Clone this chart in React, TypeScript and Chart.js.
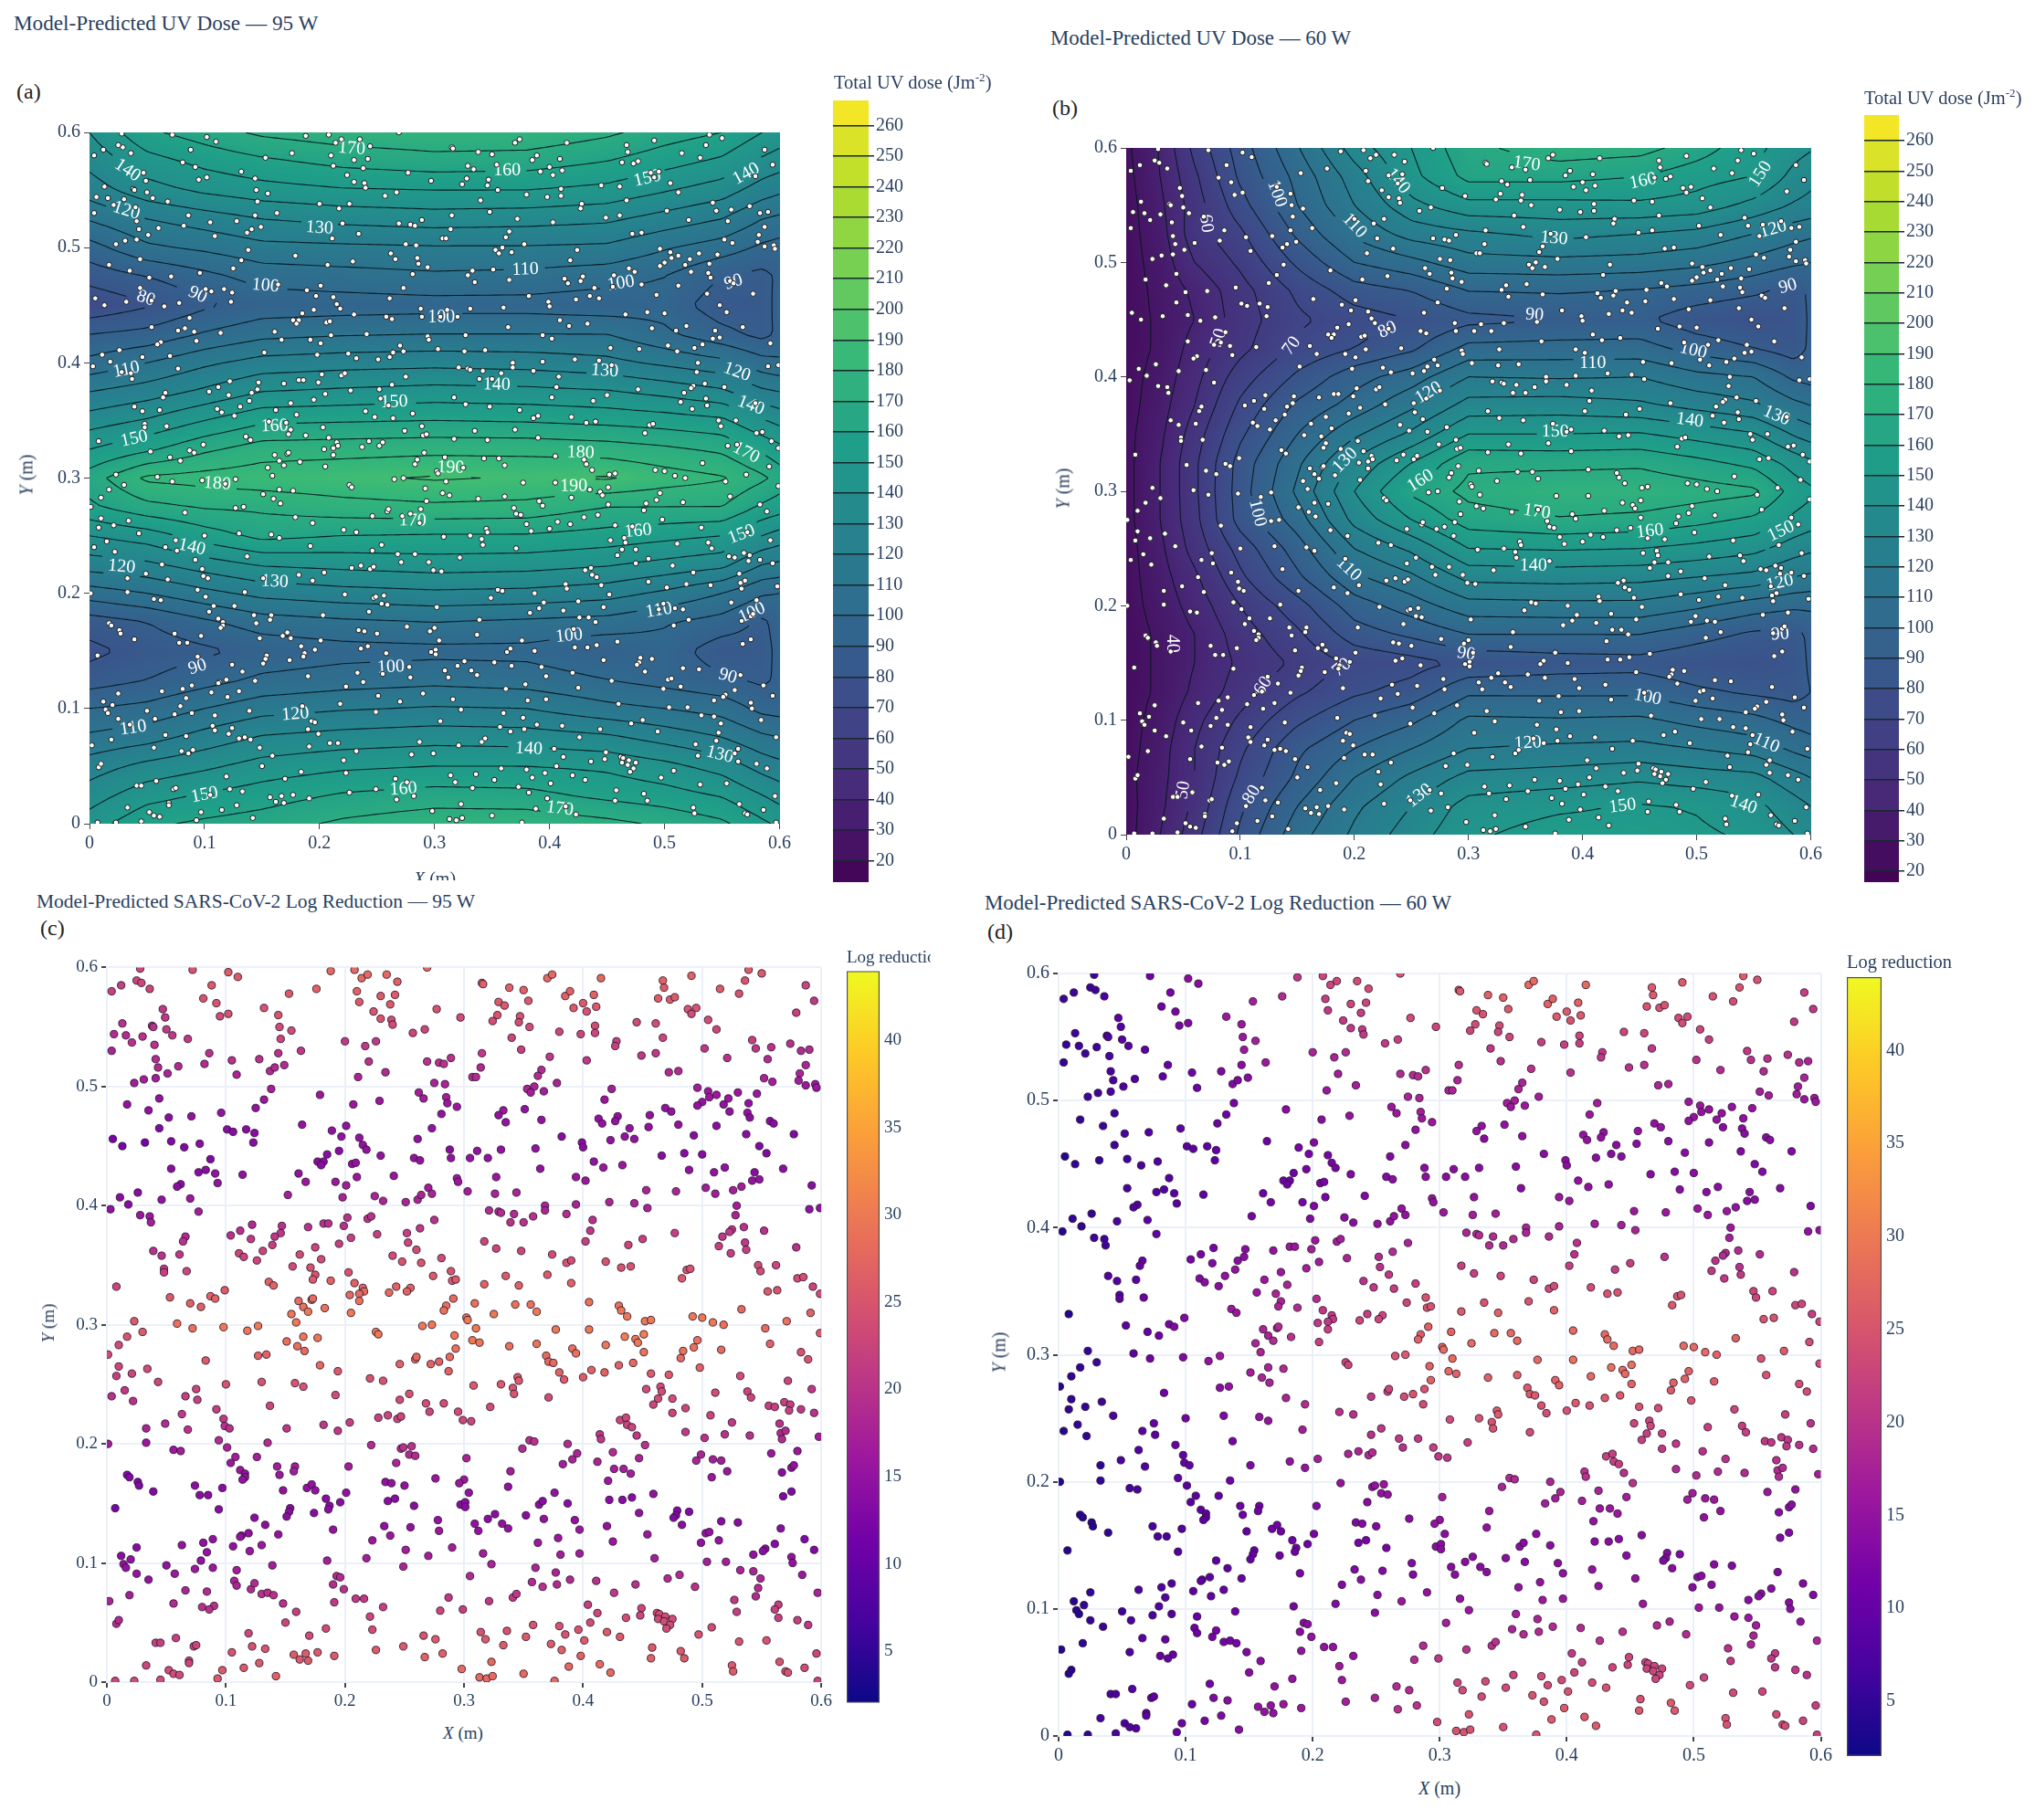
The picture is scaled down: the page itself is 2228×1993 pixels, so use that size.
// Model-predicted UV dose and log reduction maps, four panels
import { useEffect, useRef } from 'react'
import { Chart } from 'chart.js/auto'

type Sample = [number, number, number, number] // x, y, log reduction 95 W, log reduction 60 W

const axisTicks = [0, 0.1, 0.2, 0.3, 0.4, 0.5, 0.6]
const doseTicks = [20, 30, 40, 50, 60, 70, 80, 90, 100, 110, 120, 130, 140, 150, 160, 170, 180, 190, 200, 210, 220, 230, 240, 250, 260]
const logTicks = [5, 10, 15, 20, 25, 30, 35, 40]

const gridY = [0, 0.025, 0.05, 0.075, 0.1, 0.125, 0.15, 0.175, 0.2, 0.225, 0.25, 0.275, 0.3, 0.325, 0.35, 0.375, 0.4, 0.425, 0.45, 0.475, 0.5, 0.525, 0.55, 0.575, 0.6]

const gridX95 = [0, 0.05, 0.1, 0.15, 0.22, 0.3, 0.38, 0.45, 0.5, 0.55, 0.585, 0.6]
const dose95 = [
  [145, 158, 162, 165, 172, 177, 177, 173, 168, 162, 152, 148],
  [135, 146, 151, 155, 161, 164, 163, 157, 154, 149, 140, 136],
  [125, 133, 138, 144, 148, 150, 150, 148, 143, 136, 126, 123],
  [112, 116, 124, 131, 134, 136, 135, 132, 126, 120, 112, 110],
  [100, 103, 110, 116, 119, 121, 120, 113, 110, 106, 97, 96],
  [85, 90, 96, 102, 105, 107, 105, 100, 96, 92, 88, 92],
  [77, 84, 88, 93, 96, 97, 97, 92, 96, 84, 86, 93],
  [85, 90, 98, 105, 108, 110, 108, 106, 101, 96, 88, 94],
  [105, 110, 117, 123, 126, 128, 127, 124, 118, 110, 101, 100],
  [125, 128, 135, 141, 143, 145, 144, 141, 137, 133, 120, 118],
  [140, 145, 155, 163, 160, 159, 159, 156, 153, 150, 140, 136],
  [158, 167, 171, 172, 176, 178, 177, 170, 170, 170, 158, 155],
  [165, 182, 184, 186, 188, 191, 189, 191, 185, 181, 172, 166],
  [150, 158, 168, 175, 176, 177, 177, 175, 172, 168, 158, 153],
  [135, 141, 150, 158, 159, 160, 159, 157, 155, 152, 141, 137],
  [120, 125, 132, 140, 142, 144, 143, 141, 137, 132, 122, 120],
  [103, 110, 118, 124, 126, 127, 126, 123, 118, 113, 104, 102],
  [90, 93, 101, 107, 109, 110, 110, 110, 102, 93, 87, 92],
  [72, 79, 88, 94, 95, 96, 96, 94, 96, 84, 85, 94],
  [84, 90, 97, 104, 106, 108, 107, 104, 100, 90, 87, 92],
  [96, 108, 112, 117, 118, 119, 119, 118, 111, 105, 98, 96],
  [111, 120, 125, 130, 133, 135, 134, 132, 126, 120, 110, 108],
  [125, 136, 142, 146, 149, 150, 150, 147, 141, 135, 125, 122],
  [133, 146, 153, 158, 163, 166, 165, 160, 154, 148, 138, 135],
  [140, 158, 165, 172, 176, 178, 178, 172, 165, 160, 150, 146],
]

const gridX60 = [0, 0.03, 0.06, 0.1, 0.15, 0.2, 0.25, 0.3, 0.38, 0.45, 0.5, 0.55, 0.585, 0.6]
const dose60 = [
  [26, 40, 56, 82, 106, 122, 135, 148, 155, 155, 152, 148, 140, 136],
  [26, 38, 52, 78, 100, 118, 130, 144, 148, 151, 149, 143, 134, 130],
  [27, 37, 50, 72, 92, 110, 122, 133, 135, 138, 135, 133, 124, 120],
  [26, 36, 50, 68, 88, 100, 110, 120, 122, 123, 120, 116, 108, 105],
  [26, 34, 47, 62, 78, 90, 98, 112, 111, 112, 107, 103, 97, 95],
  [25, 32, 42, 55, 68, 78, 84, 98, 98, 98, 92, 88, 86, 90],
  [25, 32, 40, 52, 62, 72, 76, 82, 85, 86, 82, 80, 84, 92],
  [25, 32, 40, 55, 68, 85, 92, 100, 100, 100, 94, 88, 87, 92],
  [26, 34, 44, 60, 76, 95, 105, 116, 117, 117, 112, 105, 102, 102],
  [26, 36, 48, 68, 88, 108, 118, 133, 134, 133, 130, 127, 120, 118],
  [26, 38, 54, 74, 95, 120, 132, 150, 151, 150, 147, 143, 135, 132],
  [27, 40, 57, 84, 105, 133, 150, 165, 169, 167, 163, 158, 148, 145],
  [27, 40, 58, 85, 112, 140, 162, 173, 178, 178, 175, 172, 156, 152],
  [27, 40, 58, 84, 108, 132, 150, 168, 167, 168, 163, 157, 146, 142],
  [27, 38, 55, 78, 100, 118, 132, 150, 150, 151, 146, 141, 129, 125],
  [26, 36, 50, 72, 92, 104, 118, 134, 135, 132, 127, 122, 113, 110],
  [26, 34, 47, 65, 82, 96, 105, 120, 119, 120, 113, 110, 98, 96],
  [25, 32, 44, 57, 72, 80, 88, 103, 104, 104, 96, 90, 85, 92],
  [25, 32, 40, 55, 68, 75, 80, 87, 90, 92, 84, 80, 83, 92],
  [25, 33, 42, 56, 72, 85, 90, 100, 101, 99, 96, 92, 86, 92],
  [26, 34, 50, 62, 82, 100, 107, 116, 117, 116, 113, 107, 102, 100],
  [26, 36, 56, 68, 92, 112, 124, 128, 133, 130, 127, 120, 114, 112],
  [26, 38, 55, 76, 100, 120, 137, 147, 147, 148, 146, 137, 129, 127],
  [27, 40, 58, 82, 103, 125, 147, 163, 163, 160, 154, 150, 137, 133],
  [28, 41, 63, 85, 109, 135, 150, 167, 176, 174, 165, 153, 144, 141],
]

// contour labels: x, y, level
const labels95 = [
  [0.228, 0.586, 170], [0.033, 0.567, 140], [0.363, 0.567, 160], [0.485, 0.56, 150], [0.571, 0.564, 140], [0.032, 0.532, 120],
  [0.2, 0.517, 130], [0.049, 0.456, 80], [0.094, 0.459, 90], [0.153, 0.467, 100], [0.379, 0.481, 110], [0.462, 0.469, 100],
  [0.56, 0.47, 90], [0.306, 0.439, 100], [0.032, 0.394, 110], [0.448, 0.393, 130], [0.563, 0.392, 120], [0.354, 0.381, 140],
  [0.265, 0.366, 150], [0.575, 0.363, 140], [0.161, 0.345, 160], [0.039, 0.334, 150], [0.427, 0.322, 180], [0.571, 0.322, 170],
  [0.314, 0.309, 190], [0.111, 0.295, 180], [0.421, 0.293, 190], [0.281, 0.263, 170], [0.477, 0.254, 160], [0.567, 0.251, 150],
  [0.089, 0.24, 140], [0.028, 0.223, 120], [0.161, 0.21, 130], [0.495, 0.185, 110], [0.576, 0.183, 100], [0.417, 0.163, 100],
  [0.094, 0.136, 90], [0.262, 0.136, 100], [0.555, 0.128, 90], [0.179, 0.095, 120], [0.038, 0.083, 110], [0.382, 0.065, 140],
  [0.548, 0.06, 130], [0.1, 0.025, 150], [0.273, 0.03, 160], [0.409, 0.013, 170],
]
const labels60 = [
  [0.351, 0.586, 170], [0.453, 0.571, 160], [0.556, 0.577, 150], [0.238, 0.571, 140], [0.132, 0.56, 100], [0.2, 0.532, 110],
  [0.375, 0.521, 130], [0.567, 0.529, 120], [0.07, 0.534, 60], [0.58, 0.479, 90], [0.358, 0.454, 90], [0.229, 0.441, 80],
  [0.145, 0.427, 70], [0.081, 0.434, 50], [0.497, 0.423, 100], [0.409, 0.412, 110], [0.265, 0.386, 120], [0.57, 0.366, 130],
  [0.494, 0.362, 140], [0.376, 0.352, 150], [0.192, 0.327, 130], [0.258, 0.309, 160], [0.115, 0.281, 100], [0.36, 0.282, 170],
  [0.459, 0.265, 160], [0.574, 0.265, 150], [0.357, 0.235, 140], [0.195, 0.232, 110], [0.573, 0.22, 120], [0.573, 0.175, 90],
  [0.298, 0.158, 90], [0.04, 0.167, 40], [0.189, 0.146, 70], [0.12, 0.13, 60], [0.457, 0.12, 100], [0.561, 0.08, 110],
  [0.352, 0.08, 120], [0.05, 0.039, 50], [0.11, 0.035, 80], [0.257, 0.034, 130], [0.435, 0.025, 150], [0.541, 0.026, 140],
]

const samplesTopLeft: Sample[] = [
  [.004,.58,22,6],[.012,.585,22,6],[.025,.589,23,6],[.029,.587,23,6],[.028,.599,23,6],[.036,.582,23,7],[.072,.598,25,11],[.081,.574,25,11],[.088,.585,26,12],[.102,.596,26,14],
  [.11,.592,26,14],[.092,.57,25,12],[.095,.559,24,12],[.102,.561,25,13],[.132,.566,25,16],[.144,.56,25,16],[.145,.55,24,16],[.155,.547,24,17],[.146,.54,23,16],[.153,.578,26,17],
  [.176,.582,27,19],[.188,.597,28,21],[.208,.598,28,23],[.214,.591,28,23],[.219,.594,28,23],[.21,.58,27,22],[.212,.571,26,21],[.224,.563,25,21],[.23,.576,26,23],[.23,.557,25,21],
  [.235,.594,28,24],[.244,.588,27,24],[.242,.577,26,23],[.238,.569,26,22],[.239,.556,24,21],[.24,.552,24,21],[.269,.6,28,25],[.277,.565,25,24],[.257,.545,23,21],[.267,.548,23,22],
  [.047,.565,21,9],[.049,.558,21,8],[.013,.553,20,6],[.038,.551,20,7],[.039,.55,20,7],[.05,.548,21,8],[.055,.543,21,8],[.006,.544,19,5],[.016,.543,19,6],[.03,.542,20,6],
  [.021,.537,20,6],[.04,.535,20,7],[.068,.54,21,9],[.004,.53,18,5],[.086,.528,20,10],[.041,.523,19,7],[.082,.519,19,9],[.105,.522,20,11],[.128,.523,20,13],[.144,.528,20,14],
  [.163,.53,21,16],[.043,.516,19,7],[.06,.517,19,8],[.051,.511,18,8],[.109,.51,18,11],[.137,.513,19,13],[.141,.516,19,13],[.149,.518,19,14],[.023,.503,17,6],[.031,.506,17,6],
  [.041,.507,17,7],[.2,.538,21,18],[.217,.534,21,18],[.226,.538,21,19],[.22,.521,20,17],[.211,.508,18,16],[.234,.512,19,17],[.269,.521,20,19],[.279,.52,20,19],[.283,.519,20,19],
  [.275,.503,18,18],[.284,.502,18,18],[.138,.498,17,12],[.179,.493,16,14],[.017,.485,15,5],[.044,.49,15,6],[.035,.48,15,6],[.132,.489,16,11],[.125,.482,15,11],[.207,.485,16,14],
  [.229,.488,16,15],[.262,.495,17,16],[.266,.49,17,16],[.285,.491,17,17],[.286,.486,16,16],[.281,.477,15,15],[.052,.474,14,7],[.071,.475,15,8],[.096,.478,15,9],[.044,.465,13,6],
  [.101,.464,14,9],[.106,.462,14,9],[.117,.464,14,9],[.124,.461,14,10],[.164,.468,15,11],[.189,.463,15,12],[.201,.467,15,13],[.197,.458,15,12],[.273,.465,15,14],[.005,.456,12,4],
  [.013,.45,12,5],[.032,.453,12,5],[.054,.454,13,6],[.065,.449,13,7],[.078,.452,14,8],[.123,.453,14,9],[.212,.457,15,12],[.215,.451,15,12],[.218,.447,15,12],[.261,.456,15,13],
  [.195,.446,14,12],[.288,.447,14,14],[.289,.44,15,14],[.087,.439,13,8],[.185,.443,14,11],[.177,.437,14,11],[.182,.437,14,11],[.18,.434,14,11],[.206,.435,15,12],[.209,.436,15,12],
  [.23,.442,15,13],[.258,.44,15,13],[.263,.438,15,14],[.054,.431,14,7],[.077,.428,14,8],[.083,.43,14,8],[.091,.427,15,9],[.114,.426,15,9],[.161,.427,15,11],[.21,.424,16,12],
  [.241,.425,16,13],[.093,.419,15,9],[.062,.418,14,8],[.059,.416,14,8],[.167,.42,16,12],[.192,.42,16,12],[.201,.417,17,13],[.27,.415,17,15],[.026,.411,14,5],[.011,.407,14,5],
  [.046,.405,15,7],[.07,.406,16,9],[.018,.401,14,5],[.003,.397,15,4],[.152,.409,17,12],[.198,.407,18,13],[.225,.408,18,14],[.232,.404,18,14],[.251,.403,18,15],[.261,.405,18,15],
  [.264,.409,18,15],[.273,.41,18,15],[.028,.392,16,6],[.036,.391,16,6],[.037,.386,17,6],[.077,.395,17,10],[.122,.384,19,12],[.104,.375,20,12],[.112,.379,20,12],[.121,.372,21,13],
  [.147,.383,20,14],[.146,.377,21,14],[.141,.374,21,14],[.169,.382,20,15],[.182,.385,20,16],[.186,.385,20,16],[.202,.39,20,16],[.199,.383,20,17],[.219,.389,20,17],[.222,.391,20,17],
  [.275,.388,20,18],[.263,.381,21,19],[.252,.377,22,19],[.227,.376,22,18],[.205,.373,22,17],[.066,.374,19,10],[.064,.37,20,10],[.195,.368,22,17],[.175,.365,23,16],[.139,.367,22,15],
  [.253,.369,23,20],[.039,.362,20,8],[.046,.358,20,8],[.061,.359,21,9],[.111,.36,23,13],[.115,.357,23,14],[.131,.362,23,15],[.162,.359,24,16],[.126,.354,23,14],[.18,.355,24,18],
  [.26,.363,24,21],[.24,.358,24,20],[.248,.353,25,21],[.264,.352,25,22],[.281,.356,24,22],[.156,.349,24,16],[.171,.348,25,18],[.048,.347,21,8],[.048,.344,22,9],[.067,.345,23,11],
  [.203,.344,25,19],[.175,.342,25,18],[.274,.341,26,23],[.008,.332,23,4],[.136,.336,27,16],[.14,.333,27,16],[.173,.338,26,18],[.188,.337,27,19],[.208,.335,27,21],[.215,.331,27,21],
  [.216,.328,28,21],[.243,.332,27,22],[.255,.331,27,23],[.252,.328,27,23],[.099,.329,26,13],[.053,.323,26,9],[.07,.318,27,10],[.079,.315,27,11],[.087,.324,27,12],[.091,.322,27,13],
  [.204,.325,28,21],[.212,.326,28,21],[.237,.327,28,23],[.161,.32,28,18],[.172,.321,28,19],[.173,.322,28,19],[.212,.32,29,22],[.165,.315,29,18],[.169,.311,30,19],[.183,.314,29,20],
  [.285,.316,29,26],[.283,.312,29,27],[.155,.309,30,18],[.205,.31,30,22],
]

const samplesTopRight: Sample[] = [
  [.297,.558,24,23],[.289,.524,20,20],[.315,.587,27,26],[.316,.586,27,26],[.338,.583,27,27],[.35,.581,27,27],[.329,.571,26,25],[.334,.568,26,25],[.354,.572,26,26],[.37,.591,28,28],
  [.374,.594,28,28],[.385,.576,27,27],[.389,.58,27,27],[.415,.591,28,28],[.392,.566,26,26],[.4,.57,26,26],[.403,.563,25,25],[.409,.577,27,27],[.411,.567,26,26],[.328,.56,25,24],
  [.324,.555,24,23],[.347,.559,25,24],[.346,.554,24,23],[.355,.55,24,23],[.34,.541,23,21],[.348,.531,22,20],[.38,.546,23,22],[.398,.544,23,22],[.41,.551,24,23],[.41,.545,23,22],
  [.315,.528,21,20],[.314,.516,19,18],[.307,.508,19,18],[.31,.508,19,18],[.372,.525,21,20],[.365,.514,19,18],[.362,.509,19,18],[.378,.503,18,17],[.353,.498,18,17],[.359,.5,18,17],
  [.356,.495,17,16],[.367,.496,17,16],[.403,.522,21,20],[.428,.538,22,21],[.427,.534,22,21],[.445,.554,24,23],[.461,.553,24,23],[.467,.541,23,21],[.449,.526,21,20],[.461,.528,21,20],
  [.467,.589,27,26],[.468,.583,26,26],[.463,.574,26,25],[.473,.573,26,25],[.477,.575,26,25],[.491,.593,27,26],[.488,.565,25,24],[.495,.566,25,24],[.491,.561,24,24],[.505,.556,24,23],
  [.512,.548,23,22],[.515,.582,26,25],[.531,.578,25,24],[.536,.589,25,25],[.539,.598,26,26],[.55,.595,26,25],[.587,.585,23,22],[.594,.572,21,21],[.579,.562,22,21],[.502,.532,21,20],
  [.521,.524,20,19],[.542,.539,22,21],[.545,.532,21,20],[.558,.533,20,20],[.574,.536,20,20],[.583,.53,19,19],[.59,.531,19,18],[.555,.523,19,19],[.587,.518,18,18],[.582,.511,18,17],
  [.472,.512,19,18],[.48,.513,19,18],[.552,.507,18,17],[.559,.504,17,17],[.581,.505,17,17],[.587,.501,16,16],[.595,.502,16,16],[.596,.499,16,16],[.424,.498,17,17],[.418,.489,16,16],
  [.496,.499,17,16],[.505,.496,16,16],[.506,.491,16,15],[.512,.493,16,15],[.53,.495,16,15],[.546,.494,16,15],[.522,.49,16,15],[.518,.485,15,15],[.539,.486,15,15],[.5,.487,15,15],
  [.496,.484,15,15],[.469,.482,15,15],[.474,.479,15,15],[.523,.479,15,14],[.538,.478,15,14],[.54,.474,14,14],[.557,.471,14,14],[.56,.469,14,14],[.294,.483,16,16],[.333,.48,16,15],
  [.329,.476,15,15],[.335,.47,15,14],[.351,.481,15,15],[.365,.472,15,15],[.413,.473,15,15],[.416,.469,15,15],[.429,.475,15,15],[.427,.471,15,15],[.456,.476,15,15],[.455,.466,15,14],
  [.48,.468,15,14],[.439,.465,15,14],[.435,.458,15,14],[.443,.456,15,14],[.423,.455,15,14],[.382,.458,14,14],[.399,.453,14,14],[.4,.449,14,14],[.493,.459,14,14],[.512,.467,14,14],
  [.537,.46,14,13],[.577,.46,13,13],[.548,.45,13,13],[.554,.444,13,13],[.311,.446,15,14],[.305,.44,15,14],[.32,.44,15,14],[.331,.447,15,14],[.36,.448,15,14],[.364,.431,15,14],
  [.327,.424,16,15],[.409,.437,15,15],[.417,.432,16,15],[.433,.434,16,15],[.466,.442,14,14],[.485,.444,14,14],[.5,.443,14,14],[.489,.43,15,14],[.51,.428,15,14],[.519,.432,15,14],
  [.544,.428,14,14],[.568,.431,14,14],[.542,.421,15,14],[.548,.422,15,14],[.394,.424,16,16],[.402,.421,16,16],[.592,.417,14,13],[.294,.423,16,15],[.295,.42,16,15],[.303,.412,17,16],
  [.326,.41,18,17],[.344,.411,18,17],[.453,.413,18,16],[.478,.412,18,16],[.503,.415,17,16],[.511,.41,17,16],[.526,.413,17,16],[.533,.416,17,15],[.422,.403,18,17],[.394,.401,18,18],
  [.443,.402,18,17],[.454,.398,18,18],[.368,.4,18,18],[.368,.396,18,18],[.321,.396,19,18],[.329,.395,19,19],[.331,.394,19,19],[.342,.393,19,19],[.339,.386,20,19],[.35,.386,20,19],
  [.358,.391,20,19],[.386,.393,19,19],[.408,.388,20,20],[.529,.4,17,16],[.528,.392,18,17],[.59,.397,15,15],[.599,.398,15,15],[.406,.379,21,20],[.402,.37,22,22],[.477,.377,22,20],
  [.535,.382,20,19],[.525,.38,21,19],[.523,.378,21,19],[.517,.374,21,20],[.552,.379,20,19],[.317,.37,23,22],[.327,.364,23,22],[.348,.362,23,23],[.45,.372,22,22],[.438,.367,23,22],
  [.514,.366,22,21],[.524,.36,22,21],[.536,.369,21,20],[.537,.363,22,21],[.579,.365,20,20],[.374,.359,24,23],[.386,.352,25,24],[.39,.354,24,24],[.419,.353,25,24],[.432,.348,25,25],
  [.44,.349,25,25],[.547,.35,24,23],[.549,.345,24,23],[.562,.35,23,23],[.487,.346,25,25],[.49,.347,25,25],[.483,.339,26,26],[.289,.345,25,25],[.29,.337,26,25],[.293,.338,26,25],
  [.37,.342,26,25],[.335,.341,26,25],[.317,.334,27,26],[.346,.333,27,27],[.39,.335,27,27],[.58,.339,24,23],[.585,.34,24,23],[.593,.332,23,22],[.599,.326,24,23],[.555,.328,26,25],
  [.563,.329,25,25],[.291,.322,28,27],[.309,.318,29,27],[.343,.317,29,28],[.356,.317,29,28],[.361,.311,30,28],[.325,.309,30,28],[.302,.306,30,28],[.303,.304,30,28],[.405,.319,29,28],
  [.43,.316,29,28],[.432,.312,30,28],[.437,.307,30,28],[.452,.303,30,28],[.457,.304,30,28],[.492,.307,30,28],[.5,.306,30,28],[.509,.302,30,28],[.518,.3,29,27],[.533,.313,28,27],
  [.571,.303,29,26],[.591,.31,27,24],
]

const samplesBottomLeft: Sample[] = [
  [.023,.303,26,5],[.059,.301,29,9],[.072,.297,29,11],[.098,.298,30,13],[.127,.299,30,16],[.118,.295,30,15],[.159,.302,30,18],[.03,.294,26,6],[.017,.29,25,5],[.01,.283,24,5],
  [.001,.275,24,4],[.151,.286,29,17],[.165,.29,30,18],[.177,.289,30,19],[.16,.282,29,18],[.166,.278,28,18],[.127,.274,27,14],[.134,.275,27,15],[.083,.27,26,11],[.01,.265,23,5],
  [.008,.257,22,5],[.021,.259,23,5],[.034,.263,24,6],[.043,.252,23,7],[.265,.299,30,25],[.273,.3,30,26],[.226,.294,30,23],[.228,.292,30,23],[.246,.267,27,21],[.259,.271,28,23],
  [.26,.273,28,23],[.272,.267,27,24],[.279,.269,27,25],[.179,.266,28,18],[.194,.261,26,19],[.221,.255,25,20],[.232,.253,25,20],[.13,.252,25,13],[.158,.251,25,15],[.165,.248,25,15],
  [.1,.25,25,12],[.192,.241,24,17],[.015,.245,21,5],[.004,.24,20,4],[.022,.236,20,5],[.066,.24,22,9],[.075,.246,23,10],[.076,.237,22,9],[.137,.232,23,12],[.092,.229,22,10],
  [.063,.225,21,8],[.098,.221,21,10],[.099,.215,20,10],[.103,.213,20,10],[.049,.217,19,7],[.068,.212,20,8],[.033,.213,18,5],[.151,.213,21,13],[.182,.216,21,15],[.194,.211,21,15],
  [.204,.218,22,17],[.228,.222,22,18],[.236,.224,23,18],[.244,.221,23,19],[.247,.223,23,19],[.246,.237,24,20],[.254,.242,25,21],[.268,.234,24,21],[.271,.227,23,20],[.283,.234,24,21],
  [.033,.201,16,5],[.056,.195,16,7],[.062,.194,17,7],[.001,.2,17,4],[.094,.203,19,9],[.101,.197,18,9],[.135,.201,19,11],[.108,.189,17,9],[.126,.189,17,10],[.222,.199,19,15],
  [.247,.196,20,15],[.249,.197,20,15],[.256,.198,20,16],[.254,.191,19,15],[.259,.19,19,15],[.243,.184,18,14],[.104,.184,16,9],[.112,.178,16,9],[.116,.175,15,9],[.116,.172,15,9],
  [.114,.17,15,9],[.143,.181,17,11],[.145,.174,16,11],[.158,.181,17,11],[.157,.177,17,11],[.203,.181,17,13],[.276,.171,16,14],[.234,.168,15,13],[.239,.167,15,13],[.25,.165,15,13],
  [.017,.174,13,4],[.019,.172,13,4],[.026,.168,13,4],[.027,.165,13,4],[.039,.16,13,5],[.074,.165,14,7],[.078,.157,14,7],[.085,.157,14,7],[.097,.163,14,8],[.094,.145,14,8],
  [.007,.146,12,4],[.148,.161,15,10],[.168,.163,15,11],[.172,.166,15,11],[.175,.161,15,11],[.184,.154,14,11],[.187,.148,14,11],[.186,.145,14,11],[.196,.151,14,11],[.201,.159,15,12],
  [.236,.152,14,12],[.242,.154,14,12],[.258,.148,14,12],[.154,.146,14,10],[.153,.143,14,10],[.151,.139,14,10],[.124,.138,14,9],[.133,.132,14,9],[.174,.142,14,11],[.278,.136,15,13],
  [.233,.131,15,13],[.255,.13,15,13],[.279,.127,16,13],[.19,.128,15,12],[.238,.123,16,14],[.223,.119,16,13],[.119,.125,15,9],[.113,.123,15,9],[.112,.122,15,9],[.144,.124,15,10],
  [.089,.12,15,8],[.081,.117,15,8],[.063,.115,15,7],[.025,.113,14,5],[.106,.114,15,9],[.13,.115,16,10],[.12,.11,16,10],[.084,.109,15,8],[.012,.106,14,4],[.02,.103,15,5],
  [.079,.102,15,8],[.014,.099,15,4],[.016,.096,15,4],[.05,.098,15,6],[.089,.096,16,8],[.074,.095,16,7],[.025,.091,15,5],[.057,.091,16,7],[.035,.086,15,6],[.109,.094,17,10],
  [.139,.098,17,11],[.185,.102,17,12],[.218,.104,17,13],[.27,.106,17,16],[.251,.111,17,14],[.249,.097,18,14],[.107,.085,18,11],[.109,.081,18,11],[.121,.078,19,12],[.124,.083,19,12],
  [.193,.089,19,14],[.196,.088,19,14],[.19,.082,19,14],[.199,.078,20,15],[.066,.077,18,9],[.084,.076,19,10],[.019,.073,17,5],[.13,.074,20,12],[.135,.075,20,12],[.14,.073,20,12],
  [.148,.066,20,13],[.209,.07,21,15],[.216,.07,21,15],[.002,.068,18,4],[.056,.066,19,8],[.08,.063,20,10],[.09,.064,20,10],[.086,.061,20,10],[.191,.067,21,15],[.232,.063,22,15],
  [.159,.059,22,14],[.221,.055,23,16],[.28,.06,23,19],[.008,.049,19,4],[.01,.052,19,4],[.15,.05,23,14],[.223,.044,24,16],[.119,.041,23,12],[.184,.045,24,15],[.17,.039,24,15],
  [.266,.039,25,19],[.276,.036,26,19],[.058,.037,22,8],[.041,.033,22,7],[.045,.033,22,7],[.073,.03,23,9],[.075,.031,23,9],[.122,.03,25,13],[.133,.028,25,14],[.105,.025,25,11],
  [.157,.023,26,15],[.162,.019,26,15],[.167,.024,26,15],[.169,.018,26,15],[.177,.025,26,16],[.191,.022,26,16],[.226,.027,26,17],[.249,.03,26,18],[.267,.021,27,20],[.282,.024,27,20],
  [.069,.018,23,9],[.069,.016,23,9],[.033,.014,23,7],[.115,.012,26,12],[.128,.016,26,13],[.052,.01,24,7],[.056,.007,24,8],[.061,.006,24,8],[.093,.003,26,10],[.097,.01,26,11],
  [.007,.001,23,4],[.023,.001,24,5],[.045,.002,24,7],[.142,.005,27,14],
]

const samplesBottomRight: Sample[] = [
  [.292,.291,30,27],[.293,.28,29,27],[.288,.273,28,25],[.287,.261,27,24],[.31,.297,30,28],[.307,.287,30,28],[.313,.285,30,27],[.338,.282,29,27],[.361,.284,29,27],[.377,.296,30,28],
  [.391,.28,29,27],[.394,.276,29,27],[.369,.274,28,26],[.371,.269,28,26],[.375,.268,28,26],[.38,.26,27,25],[.384,.254,26,24],[.4,.256,26,25],[.407,.262,27,26],[.418,.26,27,25],
  [.405,.296,30,29],[.419,.283,30,28],[.435,.29,31,29],[.444,.288,30,28],[.446,.285,30,28],[.451,.292,31,29],[.451,.277,29,27],[.442,.268,28,26],[.43,.266,27,26],[.457,.259,26,25],
  [.472,.258,26,24],[.453,.246,24,23],[.465,.248,24,23],[.466,.244,24,23],[.463,.238,24,22],[.459,.233,23,22],[.475,.238,24,22],[.475,.226,23,21],[.486,.23,23,21],[.484,.278,29,27],
  [.482,.272,28,26],[.493,.281,29,27],[.496,.287,29,27],[.498,.264,27,25],[.516,.279,28,26],[.553,.297,28,25],[.557,.284,27,25],[.583,.277,25,24],[.589,.271,25,24],[.599,.293,26,24],
  [.532,.257,24,23],[.511,.243,24,22],[.538,.244,23,22],[.541,.239,23,22],[.572,.253,23,22],[.592,.246,21,20],[.556,.232,22,21],[.561,.231,22,21],[.569,.235,22,21],[.574,.233,22,21],
  [.573,.228,22,21],[.583,.229,21,20],[.594,.226,20,19],[.507,.224,23,20],[.525,.218,21,20],[.565,.217,20,20],[.566,.209,19,19],[.57,.211,19,19],[.567,.204,19,19],[.598,.206,17,17],
  [.519,.208,20,19],[.54,.207,20,19],[.502,.205,20,19],[.486,.21,21,19],[.295,.227,24,22],[.299,.22,23,21],[.306,.219,23,21],[.322,.231,24,22],[.331,.25,26,25],[.308,.249,26,24],
  [.345,.256,26,26],[.346,.253,26,26],[.341,.247,25,25],[.342,.242,25,25],[.371,.239,24,24],[.431,.22,23,22],[.436,.222,23,22],[.437,.216,23,22],[.441,.214,23,22],[.445,.207,21,20],
  [.414,.208,21,20],[.415,.204,21,20],[.452,.199,20,20],[.355,.203,20,19],[.359,.202,20,19],[.349,.196,19,18],[.387,.2,19,18],[.395,.192,18,18],[.391,.187,18,17],[.383,.183,17,17],
  [.425,.193,19,18],[.447,.188,18,17],[.412,.185,18,17],[.426,.179,17,16],[.434,.179,17,16],[.44,.175,17,16],[.421,.169,16,15],[.339,.177,17,16],[.337,.164,15,15],[.302,.188,18,17],
  [.3,.17,16,15],[.296,.167,16,15],[.304,.159,15,14],[.297,.149,14,14],[.301,.151,14,14],[.301,.147,14,14],[.376,.159,15,14],[.363,.149,14,14],[.366,.152,14,14],[.387,.15,14,14],
  [.422,.153,14,14],[.433,.153,14,14],[.441,.155,14,14],[.459,.158,15,14],[.495,.186,18,17],[.499,.191,18,17],[.509,.187,17,16],[.516,.186,17,16],[.508,.172,16,15],[.521,.177,16,15],
  [.558,.192,16,16],[.58,.194,16,15],[.567,.176,14,14],[.575,.18,15,14],[.577,.182,15,14],[.575,.16,13,13],[.568,.156,13,13],[.447,.142,15,14],[.479,.144,13,13],[.478,.14,13,13],
  [.476,.138,13,13],[.489,.143,13,13],[.483,.132,14,14],[.516,.135,14,14],[.53,.134,14,13],[.503,.125,15,14],[.506,.126,15,14],[.514,.119,15,14],[.499,.117,15,14],[.566,.129,14,13],
  [.586,.12,13,13],[.594,.111,13,13],[.561,.116,14,14],[.553,.112,14,14],[.551,.11,14,14],[.543,.107,15,14],[.575,.105,15,14],[.576,.1,15,14],[.584,.09,16,15],[.309,.133,15,14],
  [.312,.127,15,14],[.32,.137,14,14],[.326,.141,14,14],[.332,.133,15,14],[.337,.129,15,14],[.29,.113,17,15],[.316,.108,17,15],[.323,.099,18,16],[.352,.14,14,14],[.367,.137,15,14],
  [.393,.136,15,14],[.397,.128,16,15],[.379,.121,16,15],[.362,.117,16,15],[.381,.107,17,16],[.397,.108,17,16],[.42,.131,15,15],[.425,.118,16,15],[.454,.124,16,15],[.46,.104,17,16],
  [.504,.101,17,16],[.52,.101,17,15],[.532,.094,18,16],[.543,.093,18,16],[.549,.087,18,17],[.547,.079,19,18],[.545,.072,19,18],[.36,.096,18,17],[.377,.092,18,18],[.357,.084,19,18],
  [.366,.08,20,19],[.378,.082,19,19],[.389,.086,19,19],[.411,.085,20,19],[.444,.082,20,20],[.471,.087,19,19],[.481,.09,19,18],[.494,.08,20,19],[.305,.089,19,17],[.426,.075,21,20],
  [.341,.071,21,20],[.344,.074,21,20],[.321,.068,21,20],[.287,.071,21,19],[.299,.061,22,21],[.404,.065,22,21],[.412,.058,23,22],[.449,.062,23,23],[.448,.056,23,23],[.436,.054,24,23],
  [.406,.05,24,23],[.462,.058,24,23],[.464,.057,24,23],[.469,.055,24,23],[.463,.053,24,23],[.468,.051,24,23],[.475,.053,24,23],[.473,.048,24,23],[.47,.045,24,23],[.527,.069,21,20],
  [.529,.059,22,21],[.564,.065,22,21],[.561,.061,22,21],[.564,.054,22,21],[.58,.052,22,21],[.589,.048,21,20],[.597,.075,18,18],[.508,.046,24,23],[.497,.04,25,24],[.531,.034,25,24],
  [.554,.035,25,23],[.358,.048,25,23],[.336,.043,25,24],[.314,.042,25,23],[.318,.036,26,24],[.352,.038,26,24],[.333,.031,26,24],[.38,.047,25,24],[.385,.04,25,24],[.373,.032,26,25],
  [.382,.027,27,25],[.396,.044,25,24],[.401,.035,26,25],[.42,.042,26,24],[.431,.038,26,25],[.398,.022,27,26],[.388,.013,28,26],[.414,.015,28,26],[.423,.008,28,26],[.376,.001,28,25],
  [.35,.007,28,25],[.323,.017,28,25],[.298,.011,28,24],[.313,.004,28,25],[.319,.003,28,25],[.324,.005,28,25],[.458,.029,26,25],[.457,.02,27,26],[.482,.026,26,26],[.485,.02,26,26],
  [.525,.014,26,25],[.526,.009,26,25],[.565,.017,25,24],[.57,.009,25,24],[.572,.008,25,24],[.586,.012,24,23],[.596,.024,23,22],[.597,.001,23,22],
]

const samples = [...samplesTopLeft, ...samplesTopRight, ...samplesBottomLeft, ...samplesBottomRight]

const viridis = ['#440154', '#482878', '#3e4989', '#31688e', '#26828e', '#1f9e89', '#35b779', '#6ece58', '#b5de2b', '#fde725']
const plasma = ['#0d0887', '#46039f', '#7201a8', '#9c179e', '#bd3786', '#d8576b', '#ed7953', '#fb9f3a', '#fdca26', '#f0f921']

const INK = '#2a3f5f'
const SERIF = '"Liberation Serif", serif'
const BAR_PAD = 16

function hexRgb(hex: string) {
  return [parseInt(hex.slice(1, 3), 16), parseInt(hex.slice(3, 5), 16), parseInt(hex.slice(5, 7), 16)]
}

function colourAt(stops: string[], t: number) {
  const p = Math.min(Math.max(t, 0), 1) * (stops.length - 1)
  const i = Math.min(Math.floor(p), stops.length - 2)
  const a = hexRgb(stops[i])
  const b = hexRgb(stops[i + 1])
  const f = p - i
  return [a[0] + (b[0] - a[0]) * f, a[1] + (b[1] - a[1]) * f, a[2] + (b[2] - a[2]) * f]
}

function css(c: number[]) {
  return `rgb(${Math.round(c[0])},${Math.round(c[1])},${Math.round(c[2])})`
}

function findCell(nodes: number[], v: number) {
  let i = 0
  while (i < nodes.length - 2 && v > nodes[i + 1]) i++
  return i
}

// bilinear lookup in the dose table
function doseAt(xs: number[], ys: number[], z: number[][], x: number, y: number) {
  const i = findCell(xs, x)
  const j = findCell(ys, y)
  const fx = (x - xs[i]) / (xs[i + 1] - xs[i])
  const fy = (y - ys[j]) / (ys[j + 1] - ys[j])
  const low = z[j][i] + (z[j][i + 1] - z[j][i]) * fx
  const high = z[j + 1][i] + (z[j + 1][i + 1] - z[j + 1][i]) * fx
  return low + (high - low) * fy
}

function axisOptions(kind: 'x' | 'y', plain: boolean, size = 20) {
  return {
    type: 'linear' as const,
    min: 0,
    max: 0.6,
    position: kind === 'x' ? 'bottom' : 'left',
    afterBuildTicks: (axis: any) => { axis.ticks = axisTicks.map((value) => ({ value })) },
    afterFit: (axis: any) => {
      if (kind === 'x') axis.height = 44
      else axis.width = 60
    },
    ticks: {
      color: INK,
      font: { family: SERIF, size },
      padding: 4,
      maxRotation: 0,
      autoSkip: false,
      callback: (v: any) => String(v),
    },
    grid: plain
      ? { color: 'rgba(0,0,0,0)', tickColor: '#444', tickLength: 6, lineWidth: 1 }
      : { color: '#ebf0f8', tickColor: '#444', tickLength: 6, lineWidth: 2 },
    border: { display: true, color: plain ? 'rgba(0,0,0,0)' : '#ebf0f8', width: plain ? 0 : 2 },
  }
}

function chartFrame(plot: number[]) {
  const [left, top, width, height] = plot
  return { left: left - 60, top: top - 14, width: width + 76, height: height + 61 }
}

function ContourPanel({ plot, xs, z, zmin, zmax, labels }: any) {
  const canvasRef = useRef<HTMLCanvasElement>(null)
  useEffect(() => {
    if (!canvasRef.current) return
    const fieldPlugin = {
      id: 'doseField',
      beforeDatasetsDraw(chart: any) {
        const { ctx, chartArea: area, scales } = chart
        const w = Math.round(area.right - area.left)
        const h = Math.round(area.bottom - area.top)
        const image = new ImageData(w, h)
        for (let py = 0; py < h; py++) {
          const y = scales.y.getValueForPixel(area.top + py + 0.5)
          for (let px = 0; px < w; px++) {
            const x = scales.x.getValueForPixel(area.left + px + 0.5)
            const c = colourAt(viridis, (doseAt(xs, gridY, z, x, y) - zmin) / (zmax - zmin))
            const k = (py * w + px) * 4
            image.data[k] = c[0]
            image.data[k + 1] = c[1]
            image.data[k + 2] = c[2]
            image.data[k + 3] = 255
          }
        }
        const layer = document.createElement('canvas')
        layer.width = w
        layer.height = h
        layer.getContext('2d')!.putImageData(image, 0, 0)
        ctx.drawImage(layer, area.left, area.top)

        // label boxes with their rotation from the local slope of the field
        const boxes = labels.map(([lx, ly, level]: number[]) => {
          const d = 0.004
          const gx = doseAt(xs, gridY, z, Math.min(lx + d, 0.6), ly) - doseAt(xs, gridY, z, Math.max(lx - d, 0), ly)
          const gy = doseAt(xs, gridY, z, lx, Math.min(ly + d, 0.6)) - doseAt(xs, gridY, z, lx, Math.max(ly - d, 0))
          let angle = Math.atan2(gx, gy)
          if (angle > Math.PI / 2) angle -= Math.PI
          if (angle < -Math.PI / 2) angle += Math.PI
          return { px: scales.x.getPixelForValue(lx), py: scales.y.getPixelForValue(ly), angle, level }
        })
        const hidden = (mx: number, my: number) => boxes.some((b: any) => {
          const dx = mx - b.px
          const dy = my - b.py
          const u = dx * Math.cos(b.angle) + dy * Math.sin(b.angle)
          const v = -dx * Math.sin(b.angle) + dy * Math.cos(b.angle)
          return Math.abs(u) < 22 && Math.abs(v) < 11
        })

        // marching squares on a fine mesh
        ctx.save()
        ctx.beginPath()
        ctx.rect(area.left, area.top, area.right - area.left, area.bottom - area.top)
        ctx.clip()
        ctx.strokeStyle = 'rgba(8,24,32,0.92)'
        ctx.lineWidth = 1.1
        const n = 150
        const step = 0.6 / n
        const val: number[][] = []
        for (let j = 0; j <= n; j++) {
          val[j] = []
          for (let i = 0; i <= n; i++) val[j][i] = doseAt(xs, gridY, z, i * step, j * step)
        }
        for (const level of doseTicks) {
          ctx.beginPath()
          for (let j = 0; j < n; j++) {
            for (let i = 0; i < n; i++) {
              const a = val[j][i], b = val[j][i + 1], c = val[j + 1][i + 1], d = val[j + 1][i]
              const cross: number[][] = []
              if ((a < level) !== (b < level)) cross.push([i + (level - a) / (b - a), j])
              if ((b < level) !== (c < level)) cross.push([i + 1, j + (level - b) / (c - b)])
              if ((d < level) !== (c < level)) cross.push([i + (level - d) / (c - d), j + 1])
              if ((a < level) !== (d < level)) cross.push([i, j + (level - a) / (d - a)])
              for (let k = 0; k + 1 < cross.length; k += 2) {
                const x1 = scales.x.getPixelForValue(cross[k][0] * step)
                const y1 = scales.y.getPixelForValue(cross[k][1] * step)
                const x2 = scales.x.getPixelForValue(cross[k + 1][0] * step)
                const y2 = scales.y.getPixelForValue(cross[k + 1][1] * step)
                if (hidden((x1 + x2) / 2, (y1 + y2) / 2)) continue
                ctx.moveTo(x1, y1)
                ctx.lineTo(x2, y2)
              }
            }
          }
          ctx.stroke()
        }
        ctx.restore()

        ctx.save()
        ctx.fillStyle = '#fff'
        ctx.font = `20px ${SERIF}`
        ctx.textAlign = 'center'
        ctx.textBaseline = 'middle'
        boxes.forEach((b: any) => {
          ctx.save()
          ctx.translate(b.px, b.py)
          ctx.rotate(b.angle)
          ctx.fillText(String(b.level), 0, 0)
          ctx.restore()
        })
        ctx.restore()
      },
    }
    const chart = new Chart(canvasRef.current, {
      type: 'scatter',
      data: {
        datasets: [{
          data: samples.map((s) => ({ x: s[0], y: s[1] })),
          backgroundColor: '#fff',
          borderColor: '#1a1a1a',
          borderWidth: 1,
          pointRadius: 2.8,
        }],
      },
      options: {
        responsive: false,
        animation: false,
        devicePixelRatio: 1,
        layout: { autoPadding: false, padding: { top: 14, right: 14, left: 0, bottom: 0 } },
        plugins: { legend: { display: false }, tooltip: { enabled: false } },
        scales: { x: axisOptions('x', true), y: axisOptions('y', true) },
      } as any,
      plugins: [fieldPlugin],
    })
    return () => chart.destroy()
  }, [])
  const f = chartFrame(plot)
  return <canvas ref={canvasRef} width={f.width} height={f.height} style={{ position: 'absolute', left: f.left, top: f.top }} />
}

function ScatterPanel({ plot, column, fontSize }: any) {
  const canvasRef = useRef<HTMLCanvasElement>(null)
  useEffect(() => {
    if (!canvasRef.current) return
    const chart = new Chart(canvasRef.current, {
      type: 'scatter',
      data: {
        datasets: [{
          data: samples.map((s) => ({ x: s[0], y: s[1] })),
          backgroundColor: samples.map((s) => css(colourAt(plasma, (s[column] - 2.05) / 41.9))),
          borderColor: 'rgba(45,20,50,0.9)',
          borderWidth: 1,
          pointRadius: 4.1,
        }],
      },
      options: {
        responsive: false,
        animation: false,
        devicePixelRatio: 1,
        layout: { autoPadding: false, padding: { top: 14, right: 14, left: 0, bottom: 0 } },
        plugins: { legend: { display: false }, tooltip: { enabled: false } },
        scales: { x: axisOptions('x', false, fontSize), y: axisOptions('y', false, fontSize) },
      } as any,
    })
    return () => chart.destroy()
  }, [])
  const f = chartFrame(plot)
  return <canvas ref={canvasRef} width={f.width} height={f.height} style={{ position: 'absolute', left: f.left, top: f.top }} />
}

// stepped colour bar for the dose panels
function DoseBar({ box, zmin, zmax }: any) {
  const canvasRef = useRef<HTMLCanvasElement>(null)
  useEffect(() => {
    if (!canvasRef.current) return
    const edges = [zmin, ...doseTicks, zmax]
    const datasets = edges.slice(0, -1).map((low: number, i: number) => ({
      data: [[low, edges[i + 1]]],
      backgroundColor: css(colourAt(viridis, ((low + edges[i + 1]) / 2 - zmin) / (zmax - zmin))),
      barPercentage: 1,
      categoryPercentage: 1,
    }))
    const chart = new Chart(canvasRef.current, {
      type: 'bar',
      data: { labels: [''], datasets },
      options: {
        responsive: false,
        animation: false,
        devicePixelRatio: 1,
        layout: { autoPadding: false, padding: { top: BAR_PAD, bottom: BAR_PAD, left: 0, right: 0 } },
        plugins: { legend: { display: false }, tooltip: { enabled: false } },
        scales: {
          x: { display: false, stacked: true },
          y: {
            position: 'right',
            min: zmin,
            max: zmax,
            afterBuildTicks: (axis: any) => { axis.ticks = doseTicks.map((value) => ({ value })) },
            afterFit: (axis: any) => { axis.width = 50 },
            ticks: { color: INK, font: { family: SERIF, size: 20 }, padding: 2, autoSkip: false },
            grid: { color: '#16282e', tickColor: '#16282e', tickLength: 6, lineWidth: 1.5, z: 1 },
            border: { display: false },
          },
        },
      } as any,
    })
    return () => chart.destroy()
  }, [])
  return <canvas ref={canvasRef} width={box[2] + 50} height={box[3] + BAR_PAD * 2} style={{ position: 'absolute', left: box[0], top: box[1] - BAR_PAD }} />
}

// smooth colour bar for the log reduction panels
function LogBar({ box, fontSize }: any) {
  const canvasRef = useRef<HTMLCanvasElement>(null)
  useEffect(() => {
    if (!canvasRef.current) return
    const chart: any = new Chart(canvasRef.current, {
      type: 'bar',
      data: {
        labels: [''],
        datasets: [{
          data: [[2.05, 43.95]],
          backgroundColor: (c: any) => {
            const { ctx, chartArea } = c.chart
            if (!chartArea) return plasma[5]
            const g = ctx.createLinearGradient(0, chartArea.bottom, 0, chartArea.top)
            plasma.forEach((stop, i) => g.addColorStop(i / (plasma.length - 1), stop))
            return g
          },
          borderColor: '#4a4a4a',
          borderWidth: 1.5,
          borderSkipped: false,
          barPercentage: 1,
          categoryPercentage: 1,
        }],
      },
      options: {
        responsive: false,
        animation: false,
        devicePixelRatio: 1,
        layout: { autoPadding: false, padding: { top: BAR_PAD, bottom: BAR_PAD, left: 0, right: 0 } },
        plugins: { legend: { display: false }, tooltip: { enabled: false } },
        scales: {
          x: { display: false },
          y: {
            position: 'right',
            min: 2.05,
            max: 43.95,
            afterBuildTicks: (axis: any) => { axis.ticks = logTicks.map((value) => ({ value })) },
            afterFit: (axis: any) => { axis.width = 44 },
            ticks: { color: INK, font: { family: SERIF, size: fontSize }, padding: 5, autoSkip: false },
            grid: { display: false, drawTicks: false },
            border: { display: false },
          },
        },
      } as any,
    })
    return () => chart.destroy()
  }, [])
  return <canvas ref={canvasRef} width={box[2] + 44} height={box[3] + BAR_PAD * 2} style={{ position: 'absolute', left: box[0], top: box[1] - BAR_PAD }} />
}

function Text({ x, y, size = 23, color = INK, width, children }: any) {
  return (
    <div style={{
      position: 'absolute', left: x, top: y, transform: 'translateY(-50%)', fontFamily: SERIF, fontSize: size,
      color, whiteSpace: 'nowrap', width, overflow: width ? 'hidden' : undefined, lineHeight: 1.3,
    }}>{children}</div>
  )
}

function AxisY({ x, y, size = 20 }: any) {
  return (
    <div style={{
      position: 'absolute', left: x, top: y, transform: 'translate(-50%,-50%) rotate(-90deg)', fontFamily: SERIF,
      fontSize: size, color: INK, whiteSpace: 'nowrap',
    }}><i>Y</i> (m)</div>
  )
}

function AxisX({ x, y, size = 20 }: any) {
  return (
    <div style={{
      position: 'absolute', left: x, top: y, transform: 'translate(-50%,-50%)', fontFamily: SERIF,
      fontSize: size, color: INK, whiteSpace: 'nowrap',
    }}><i>X</i> (m)</div>
  )
}

export default function App() {
  const sup = <sup style={{ fontSize: 13, lineHeight: 0 }}>-2</sup>
  return (
    <div style={{ position: 'absolute', left: 0, top: 0, width: 2228, height: 1993, overflow: 'hidden', background: '#fff' }}>
      <ContourPanel plot={[98, 143, 756, 756]} xs={gridX95} z={dose95} zmin={13} zmax={268.2} labels={labels95} />
      <ContourPanel plot={[1233, 160, 750, 751]} xs={gridX60} z={dose60} zmin={16.4} zmax={268.4} labels={labels60} />
      <ScatterPanel plot={[117, 1058, 782, 781]} column={2} fontSize={19} />
      <ScatterPanel plot={[1159, 1064, 835, 834]} column={3} fontSize={20} />
      <DoseBar box={[912, 110, 39, 856]} zmin={13} zmax={268.2} />
      <DoseBar box={[2041, 126, 38, 840]} zmin={16.4} zmax={268.4} />
      <LogBar box={[927, 1063, 36, 802]} fontSize={19} />
      <LogBar box={[2022, 1069, 38, 855]} fontSize={20} />

      <Text x={15} y={25} size={23.2}>Model-Predicted UV Dose — 95 W</Text>
      <Text x={1150} y={42} size={22.9}>Model-Predicted UV Dose — 60 W</Text>
      <Text x={40} y={988} size={21.5}>Model-Predicted SARS-CoV-2 Log Reduction — 95 W</Text>
      <Text x={1078} y={989} size={22.9}>Model-Predicted SARS-CoV-2 Log Reduction — 60 W</Text>
      <Text x={18} y={101} size={24} color="#222">(a)</Text>
      <Text x={1152} y={119} size={24} color="#222">(b)</Text>
      <Text x={44} y={1017} size={24} color="#222">(c)</Text>
      <Text x={1081} y={1021} size={24} color="#222">(d)</Text>
      <Text x={913} y={90} size={20.5}>Total UV dose (Jm{sup})</Text>
      <Text x={2041} y={107} size={20.5}>Total UV dose (Jm{sup})</Text>
      <Text x={927} y={1048} size={19} width={92}>Log reduction</Text>
      <Text x={2022} y={1053} size={20.4}>Log reduction</Text>

      <AxisY x={29} y={520} />
      <AxisY x={1164} y={535} />
      <AxisY x={53} y={1449} size={19} />
      <AxisY x={1094} y={1481} />
      <div style={{ position: 'absolute', left: 440, top: 945, width: 80, height: 19, overflow: 'hidden' }}>
        <AxisX x={36} y={17} />
      </div>
      <AxisX x={507} y={1898} size={19} />
      <AxisX x={1576} y={1958} />
    </div>
  )
}
